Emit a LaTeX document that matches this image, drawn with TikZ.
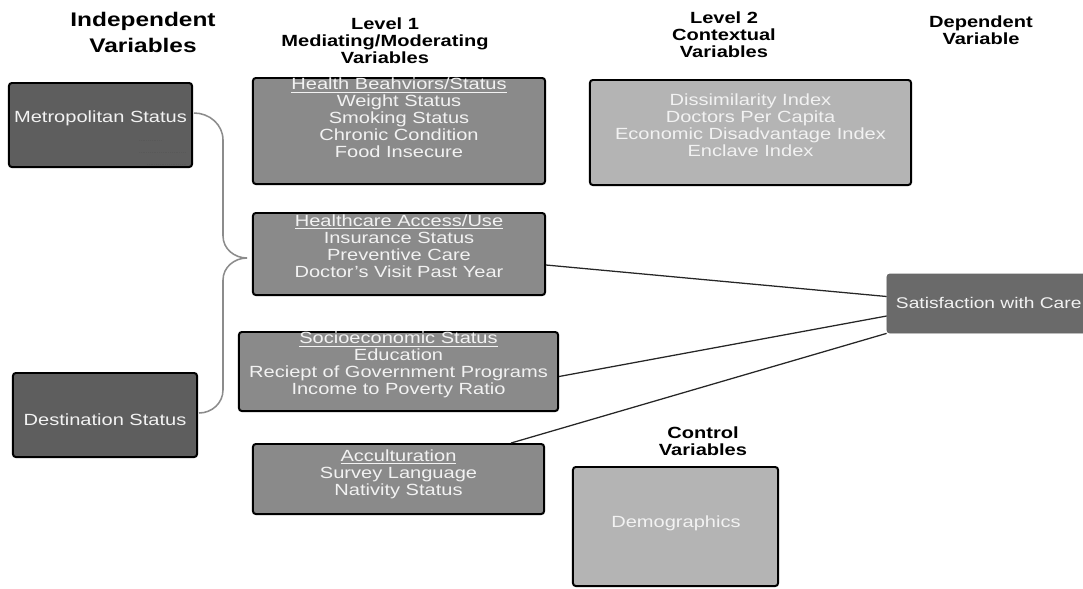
\documentclass[tikz,border=0pt]{standalone}
\usepackage{fontspec}
\setmainfont{Liberation Sans}[FakeStretch=1.24]
\usetikzlibrary{positioning}
\usetikzlibrary{calc}

\definecolor{darkbox}{HTML}{5E5E5E}
\definecolor{midbox}{HTML}{8A8A8A}
\definecolor{lightbox}{HTML}{B4B4B4}
\definecolor{outbox}{HTML}{6A6A6A}
\definecolor{bracegray}{HTML}{8C8C8C}
\definecolor{boxtext}{HTML}{F2F2F2}

\tikzset{
  varbox/.style={draw=black, line width=1.4pt, rounded corners=2pt, inner sep=0pt},
  boxtxt/.style={text=boxtext, align=center, font=\fontsize{11.5}{12.1}\selectfont},
  head/.style={align=center, font=\fontsize{11.5}{12.1}\selectfont\bfseries},
  bighead/.style={align=center, font=\fontsize{14}{18.5}\selectfont\bfseries},
  link/.style={line width=0.9pt, black!85},
  brace/.style={line width=1.1pt, bracegray}
}

\begin{document}
\begin{tikzpicture}[x=0.025cm, y=-0.025cm]
    \useasboundingbox (0,0) rectangle (1083,588);

    % Headings
    \node[bighead] (hindep) at (143,32) {Independent\\Variables};
    \node[head] (hlevel1) at (385,41) {Level 1\\Mediating/Moderating\\Variables};
    \node[head] (hlevel2) at (724,35) {Level 2\\Contextual\\Variables};
    \node[head] (hdep) at (981,30) {Dependent\\Variable};
    \node[head] (hcontrol) at (703,441) {Control\\Variables};

    % Independent variables
    \node[varbox, fill=darkbox, minimum width=4.575cm, minimum height=2.1cm] (metro) at (100.5,125) {};
    \node[boxtxt] (metrotxt) at (100.5,118) {Metropolitan Status};
    \draw[densely dotted, gray!70!black, line width=0.3pt] (139,140) -- (162,140);
    \draw[densely dotted, gray!70!black, line width=0.3pt] (139,152) -- (186,152);
    \draw[densely dotted, gray!70!black, line width=0.3pt] (147,164) -- (186,164);

    \node[varbox, fill=darkbox, minimum width=4.6cm, minimum height=2.1cm] (dest) at (105,415) {};
    \node[boxtxt] (desttxt) at (105,420) {Destination Status};

    % Level 1
    \node[varbox, fill=midbox, minimum width=7.3cm, minimum height=2.65cm] (health) at (399,131) {};
    \node[boxtxt] (healthtxt) at (399,118) {\underline{Health Beahviors/Status}\\Weight Status\\Smoking Status\\Chronic Condition\\Food Insecure};

    \node[varbox, fill=midbox, minimum width=7.3cm, minimum height=2.05cm] (access) at (399,254) {};
    \node[boxtxt] (accesstxt) at (399,246) {\underline{Healthcare Access/Use}\\Insurance Status\\Preventive Care\\Doctor's Visit Past Year};

    \node[varbox, fill=midbox, minimum width=7.975cm, minimum height=1.975cm] (ses) at (398.5,371.5) {};
    \node[boxtxt] (sestxt) at (398.5,365) {\underline{Socioeconomic Status}\\Education\\Reciept of Government Programs\\Income to Poverty Ratio};

    \node[varbox, fill=midbox, minimum width=7.275cm, minimum height=1.75cm] (accult) at (398.5,479) {};
    \node[boxtxt] (acculttxt) at (398.5,474) {\underline{Acculturation}\\Survey Language\\Nativity Status};

    % Level 2 and controls
    \node[varbox, fill=lightbox, minimum width=8.025cm, minimum height=2.625cm] (level2) at (750.5,132.5) {};
    \node[boxtxt] (level2txt) at (750.5,125) {Dissimilarity Index\\Doctors Per Capita\\Economic Disadvantage Index\\Enclave Index};

    \node[varbox, fill=lightbox, minimum width=5.125cm, minimum height=2.975cm] (demog) at (675.5,526.5) {};
    \node[boxtxt] (demogtxt) at (676,523) {Demographics};

    % Dependent variable
    \node[draw=gray!80!black, line width=0.5pt, fill=outbox, rounded corners=2pt, minimum width=5.15cm, minimum height=1.475cm] (satis) at (990,303.5) {};
    \node[boxtxt, anchor=west, font=\fontsize{11}{12.1}\selectfont] (satistxt) at (891,303) {Satisfaction with Care};

    % Brace
    \coordinate (tip) at (247,258);
    \draw[brace] ($(metro.east)+(1,-12)$) to[out=0,in=90] (223,140) -- (223,236) to[out=-90,in=180] (tip);
    \draw[brace] (tip) to[out=180,in=90] (223,280) -- (223,390) to[out=-90,in=0] ($(dest.east)+(1,-2)$);

    % Links
    \draw[link] ($(access.east)+(0,11)$) -- ($(satis.west)+(0,-7)$);
    \draw[link] ($(ses.east)+(0,5)$) -- ($(satis.west)+(0,12.5)$);
    \draw[link] ($(accult.north east)+(-34,0)$) -- (satis.south west);
\end{tikzpicture}
\end{document}
